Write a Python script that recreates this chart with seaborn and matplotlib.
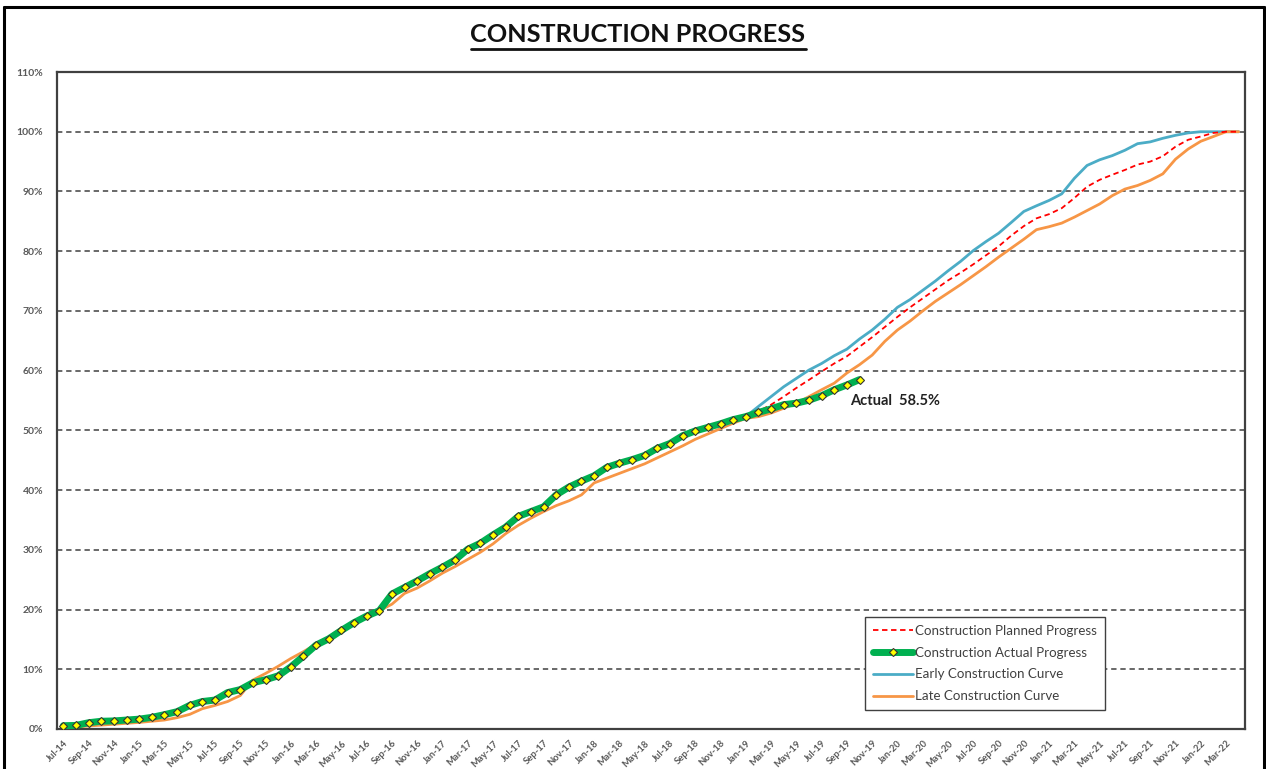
import numpy as np
import pandas as pd
import matplotlib
matplotlib.use("Agg")
import matplotlib.pyplot as plt
from matplotlib.lines import Line2D
import seaborn as sns

# ---------------- data ----------------
months = list(pd.date_range("2014-07-01", periods=94, freq="MS").strftime("%b-%y"))

actual = [0.55, 0.6, 1.05, 1.3, 1.35, 1.5, 1.65, 1.95, 2.4, 2.9,
          3.95, 4.6, 4.85, 6.1, 6.6, 7.75, 8.25, 8.9, 10.4, 12.2,
          14.05, 15.1, 16.5, 17.8, 18.9, 19.8, 22.6, 23.7, 24.8, 26.0,
          27.1, 28.3, 30.1, 31.1, 32.5, 33.8, 35.6, 36.4, 37.2, 39.2,
          40.5, 41.5, 42.4, 43.8, 44.5, 45.1, 45.8, 47.0, 47.8, 49.1,
          49.9, 50.5, 51.1, 51.8, 52.3, 53.0, 53.6, 54.3, 54.55, 55.05,
          55.8, 56.8, 57.6, 58.5]

late = [0.2, 0.35, 0.5, 0.65, 0.8, 0.95, 1.1, 1.3, 1.5, 1.9,
        2.45, 3.4, 3.95, 4.6, 5.6, 8.2, 9.3, 10.5, 11.8, 12.95,
        14.2, 15.4, 16.9, 17.7, 18.7, 19.8, 20.9, 22.7, 23.6, 24.8,
        26.1, 27.2, 28.4, 29.6, 31.0, 32.7, 34.1, 35.3, 36.4, 37.4,
        38.2, 39.2, 41.2, 42.0, 42.8, 43.6, 44.4, 45.4, 46.4, 47.4,
        48.5, 49.4, 50.3, 51.2, 52.0, 52.3, 52.9, 53.7, 54.55, 55.65,
        56.8, 57.9, 59.6, 61.0, 62.6, 64.9, 66.8, 68.3, 70.0, 71.6,
        73.0, 74.4, 75.9, 77.4, 79.0, 80.5, 82.0, 83.6, 84.1, 84.7,
        85.7, 86.8, 87.9, 89.3, 90.4, 91.0, 91.85, 92.95, 95.4, 97.1,
        98.4, 99.2, 100.0, 100.0]

# Early and planned curves are visible from Jan-19 onward (index 54)
curve_start = 54
early = [52.3, 54.0, 55.65, 57.3, 58.7, 60.1, 61.2, 62.5, 63.6, 65.3,
         66.8, 68.6, 70.6, 71.9, 73.45, 75.0, 76.7, 78.3, 80.1, 81.6,
         83.0, 84.8, 86.65, 87.6, 88.5, 89.6, 92.2, 94.35, 95.3, 96.0,
         96.9, 98.0, 98.3, 98.9, 99.4, 99.8, 100.0, 100.0, 100.0, 100.0]
planned = [52.3, 53.2, 54.3, 55.65, 57.1, 58.45, 59.85, 61.2, 62.4, 64.0,
           65.6, 67.3, 69.0, 70.6, 72.1, 73.6, 75.1, 76.4, 77.8, 79.3,
           80.8, 82.6, 84.2, 85.5, 86.2, 87.2, 88.9, 90.8, 91.95, 92.8,
           93.6, 94.5, 95.0, 95.9, 97.5, 98.65, 99.2, 99.8, 100.0, 100.0]

y_ticks = list(range(0, 111, 10))
y_ticklabels = [f"{v}%" for v in y_ticks]

# ---------------- style ----------------
sns.set_style("white")
plt.rcParams["font.family"] = ["Lato", "DejaVu Sans"]

W, H = 1266, 769
fig = plt.figure(figsize=(W / 100, H / 100), dpi=100)
ax = fig.add_axes([57 / W, 1 - 729 / H, (1245 - 57) / W, (729 - 72) / H])

x_all = np.arange(len(months))
x_act = np.arange(len(actual))
x_cur = np.arange(curve_start, curve_start + len(early))

C_BLUE = "#4BACC6"
C_ORANGE = "#F79646"
C_RED = "#FF0000"
C_GREEN = "#00B050"

sns.lineplot(x=x_cur, y=early, ax=ax, color=C_BLUE, lw=2.0,
             label="Early Construction Curve", zorder=2)
sns.lineplot(x=x_all, y=late, ax=ax, color=C_ORANGE, lw=2.0,
             label="Late Construction Curve", zorder=3)
sns.lineplot(x=x_cur, y=planned, ax=ax, color=C_RED, lw=1.3,
             linestyle=(0, (3, 2)), label="Construction Planned Progress", zorder=4)
sns.lineplot(x=x_act, y=actual, ax=ax, color=C_GREEN, lw=5,
             marker="D", markersize=4, markerfacecolor="#FFFF00",
             markeredgecolor="#333333", markeredgewidth=0.8,
             label="Construction Actual Progress", zorder=5)

# ---------------- axes ----------------
ax.set_xlim(-0.5, len(months) - 0.5)
ax.set_ylim(0, 110)
ax.set_xlabel("")
ax.set_ylabel("")

ax.set_yticks(y_ticks)
ax.set_yticklabels(y_ticklabels, color="#595959", fontsize=7.5, fontweight="bold")
ax.tick_params(axis="y", length=0, pad=10)

label_pos = x_all[::2]
ax.set_xticks(label_pos)
ax.set_xticklabels([months[i] for i in label_pos], rotation=45, ha="right",
                   rotation_mode="anchor", color="#595959", fontsize=6.8,
                   fontweight="bold")
ax.set_xticks(np.arange(-0.5, len(months), 2), minor=True)
ax.tick_params(axis="x", which="major", length=0, pad=7)
ax.tick_params(axis="x", which="minor", length=4, width=1, color="#404040",
               direction="out")

for gy in y_ticks[1:-1]:
    ax.axhline(gy, color="#404040", lw=1.1, linestyle=(0, (3.5, 2.5)), zorder=1)

for sp in ax.spines.values():
    sp.set_visible(True)
    sp.set_color("#404040")
    sp.set_linewidth(1.6)

# annotation for the last actual point
ax.annotate(f"Actual  {actual[-1]}%", xy=(x_act[-1], actual[-1]),
            xytext=(-9, -21), textcoords="offset pixels",
            fontsize=10.5, fontweight="bold", color="#222222",
            ha="left", va="center")

# legend
handles, labels = ax.get_legend_handles_labels()
order = ["Construction Planned Progress", "Construction Actual Progress",
         "Early Construction Curve", "Late Construction Curve"]
hmap = dict(zip(labels, handles))
leg = ax.legend([hmap[o] for o in order], order, loc="lower left",
                bbox_to_anchor=((858 - 57) / 1188, (729 - 717) / 657),
                fontsize=9.6, frameon=True, fancybox=False, framealpha=1,
                edgecolor="#404040", handlelength=3.0, handletextpad=0.2,
                borderpad=0.6, labelspacing=0.74, labelcolor="#404040")
leg.get_frame().set_linewidth(1.0)

# title with underline
fig.text(638 / W, 1 - 35 / H, "CONSTRUCTION PROGRESS", ha="center", va="center",
         fontsize=18.2, fontweight="bold", color="#111111")
fig.add_artist(Line2D([471 / W, 806 / W], [1 - 49 / H, 1 - 49 / H],
                      transform=fig.transFigure, color="#111111", lw=2))

# outer border
for xs, ys in [([4 / W, 1264 / W], [1 - 7 / H, 1 - 7 / H]),
               ([4 / W, 4 / W], [1 - 7 / H, 0]),
               ([1264 / W, 1264 / W], [1 - 7 / H, 0])]:
    fig.add_artist(Line2D(xs, ys, transform=fig.transFigure, color="black", lw=2.2))

fig.savefig("out.png", dpi=100)
